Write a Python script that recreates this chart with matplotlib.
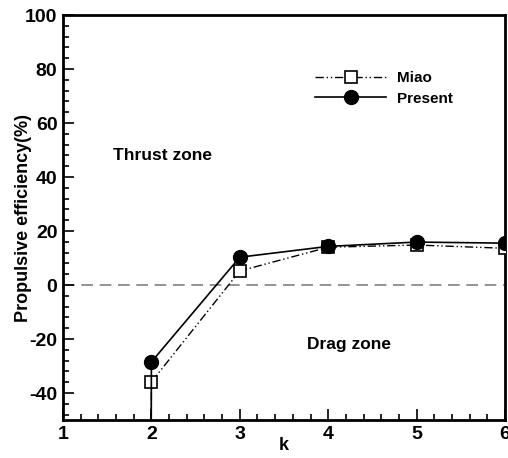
import numpy as np
import matplotlib
matplotlib.use('Agg')
from matplotlib import pyplot as plt
from matplotlib.ticker import MultipleLocator

# data
k_miao = [1.99, 2, 3, 4, 5, 6]
eff_miao = [-150, -35.9, 5.2, 14.0, 14.8, 13.6]
k_present = [1.99, 2, 3, 4, 5, 6]
eff_present = [-150, -28.5, 10.3, 14.3, 15.9, 15.5]

plt.rcParams['font.family'] = ['Liberation Sans', 'DejaVu Sans']
plt.rcParams['font.weight'] = 'bold'
plt.rcParams['axes.unicode_minus'] = False

fig = plt.figure(figsize=(5.08, 4.58), dpi=100)
ax = fig.add_axes([63 / 508, 1 - 420 / 458, 442 / 508, 405 / 458])

ax.axhline(0, color='gray', ls=(0, (7, 4)), lw=1.2, zorder=1)

ax.plot(k_miao, eff_miao, color='k', lw=1, ls=(0, (6, 2, 1, 2, 1, 2)),
        marker='s', ms=9, mfc='white', mec='k', mew=1.2, label='Miao', zorder=3)
ax.plot(k_present, eff_present, color='k', lw=1.2, ls='-',
        marker='o', ms=10, mfc='k', mec='k', label='Present', zorder=4)

ax.set_xlim(1, 6)
ax.set_ylim(-50, 100)
ax.xaxis.set_major_locator(MultipleLocator(1))
ax.xaxis.set_minor_locator(MultipleLocator(0.2))
ax.yaxis.set_major_locator(MultipleLocator(20))
ax.yaxis.set_minor_locator(MultipleLocator(4))
ax.tick_params(which='both', direction='in', top=False, right=False, width=1.2,
               labelsize=14)
ax.tick_params(which='major', length=8, pad=4)
ax.tick_params(which='minor', length=4)
for s in ax.spines.values():
    s.set_linewidth(2)

ax.set_xlabel('k', fontsize=13, fontweight='bold', labelpad=-4)
ax.set_ylabel('Propulsive efficiency(%)', fontsize=13, fontweight='bold', labelpad=-5)

ax.text(2.13, 48, 'Thrust zone', fontsize=12.5, fontweight='bold', ha='center', va='center')
ax.text(4.23, -22, 'Drag zone', fontsize=12.5, fontweight='bold', ha='center', va='center')

leg = ax.legend(loc='upper left', bbox_to_anchor=(0.54, 0.895), frameon=False,
                fontsize=11, handlelength=4.6, handletextpad=0.75, labelspacing=0.42)
for t in leg.get_texts():
    t.set_fontweight('bold')

fig.savefig('out.png', dpi=100)
